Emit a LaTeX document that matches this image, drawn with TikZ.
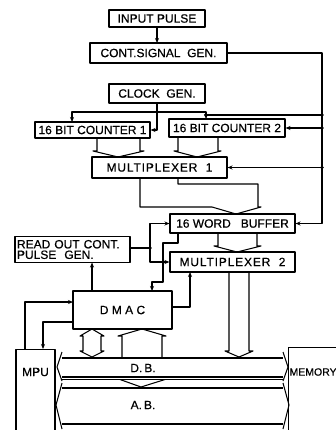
\documentclass[tikz,border=0pt]{standalone}
\usepackage{fontspec}
\setmainfont{Liberation Sans}[FakeStretch=1.0,FakeBold=0.6]
\newfontfamily\spaced{Liberation Sans}[FakeStretch=1.0,FakeBold=0.6,LetterSpace=7]
\usetikzlibrary{arrows.meta}
\begin{document}
\begin{tikzpicture}[x=1pt,y=-1pt,line width=1.05pt,line join=round,
  lbl/.style={inner sep=0pt,font=\fontsize{12}{13}\selectfont},
  box/.style={draw,lbl},
  arr/.style={-{Stealth[length=5pt,width=4pt]}},
  jdot/.style={circle,fill,inner sep=0pt,minimum size=3.6pt}]
\useasboundingbox (0,0) rectangle (336,430);
\clip (0,0) rectangle (336,430);
\fill[white] (0,0) rectangle (336,430);

% boxes
\node[box,minimum width=96pt,minimum height=17pt] (inp) at (157,18.5) {INPUT\ PULSE};
\node[box,minimum width=137pt,minimum height=20pt] (csg) at (158.5,53) {CONT.SIGNAL\ \ GEN.};
\node[box,minimum width=96pt,minimum height=19pt] (clk) at (157,93.5) {CLOCK\ \ GEN.};
\node[box,minimum width=115pt,minimum height=16pt] (c1) at (92.5,130) {16 BIT COUNTER 1};
\node[box,minimum width=116pt,minimum height=18pt] (c2) at (227,128) {16 BIT COUNTER 2};
\node[box,minimum width=135pt,minimum height=21pt] (m1) at (159.5,167.5) {\spaced MULTIPLEXER\ \ 1};
\node[box,minimum width=125pt,minimum height=19pt] (buf) at (232.5,223.5) {16 WORD\ \ \ BUFFER};
\node[box,minimum width=125pt,minimum height=20pt] (m2) at (232.5,262) {\spaced MULTIPLEXER\ \ 2};
\node[box,minimum width=115pt,minimum height=26pt,align=left,text width=111pt] (rd) at (72.5,249.5) {READ OUT CONT.\\[-2.5pt]PULSE\ \ GEN.};
\node[box,minimum width=99pt,minimum height=38pt] (dmac) at (122.5,310) {D M A C};
\node[draw,minimum width=39pt,minimum height=100pt,anchor=north,inner sep=0pt] (mpu) at (35.5,349) {};
\node[lbl] (mput) at (35.5,372) {MPU};
\node[draw,minimum width=60pt,minimum height=100pt,anchor=north west,inner sep=0pt] (mem) at (288,347) {};
\node[lbl,anchor=west,font=\fontsize{10.5}{11}\selectfont] (memt) at (289,372) {MEMORY};
\node[lbl] (db) at (143,368) {D.\,B.};
\node[lbl] (ab) at (143,405) {A.\,B.};

% junction coordinates
\coordinate (ck) at (157,112);
\coordinate (ck2) at (206,112);
\coordinate (ra) at (322,115);
\coordinate (rb) at (322,128);
\coordinate (rc) at (322,167.5);
\coordinate (rdj) at (150,248);

% input -> cont
\draw[arr] (inp.south) -- (157,43);
% cont -> right rail -> buffer
\draw[arr] (csg.east) -| (322,223.5) -- (buf.east);
\draw (ra) -- (206,115);
\node[jdot] at (206,115) {};
\draw[arr] (rb) -- (c2.east);
\draw[arr] (rc) -- (m1.east);
\node[jdot] at (ra) {};
\node[jdot] at (rb) {};
\node[jdot] at (rc) {};

% clock
\draw[arr] (clk.south) -- (157,130) -- (c1.east);
\draw[arr] (ck) -| (72,122);
\draw[arr] (ck) -- (ck2) -- (206,119);
\node[jdot] at (ck) {};

% counter fat arrows into mux1
\draw (97,138) -- (97,151) -- (93,151) -- (118,157) -- (144,151) -- (140,151) -- (140,138);
\draw (178,137) -- (178,151) -- (174,151) -- (197,157) -- (221,151) -- (218,151) -- (218,137);

% mux1 outputs into buffer
\draw (140,178) -- (140,207) -- (212,207) -- (236,214);
\draw (178,178) -- (178,184) -- (258,184) -- (258,207) -- (261,207) -- (236,214);

% buffer -> mux2
\draw (218,233) -- (218,246) -- (214,246) -- (237,252) -- (261,246) -- (257,246) -- (257,233);

% read out pulse gen
\draw (rd.east |- rdj) -- (rdj);
\draw[arr] (rdj) |- (buf.west);
\draw[arr] (rdj) |- (m2.west);
\node[jdot] at (rdj) {};

% buffer -> dmac
\draw[arr] (178,233) -- (178,243) -- (163,243) -- (163,282) -- (152,282) -- (152,291);
% dmac -> read out
\draw[arr] (92,291) -- (92,262.5);
% dmac -> mux2
\draw[arr] (172,307) -- (190,307) -- (190,272);
% mpu <-> dmac
\draw[arr] (25,349) -- (25,302) -- (73,302);
\draw[arr] (73,322) -- (43,322) -- (43,349);

% dmac <-> DB double arrow
\draw (92,329) -- (80,336) -- (83,336) -- (83,351) -- (80,351) -- (92,357) -- (104,351) -- (101,351) -- (101,336) -- (104,336) -- cycle;
% DB -> dmac up arrow
\draw (122,358) -- (122,336) -- (118,336) -- (142,329) -- (166,336) -- (162,336) -- (162,358);
% mux2 -> DB
\draw (229,272) -- (229,351) -- (225,351) -- (239,357) -- (253,351) -- (249,351) -- (249,272);

% D.B. bus
\draw (62,358) -- (283,358);
\draw (62,377) -- (283,377);
\draw (62,352) -- (57,367) -- (62,381);
\draw (283,352) -- (288,367) -- (283,381);
\draw[line width=0.7pt] (62,379.5) -- (283,379.5);
% DB -> AB small arrow
\draw (120,379.5) -- (141,387) -- (165,379.5);
% A.B. bus
\draw (62,388) -- (283,388);
\draw (62,424) -- (283,424);
\draw (62,383) -- (56,405) -- (62,429);
\draw (283,383) -- (289,405) -- (283,429);
\end{tikzpicture}
\end{document}
